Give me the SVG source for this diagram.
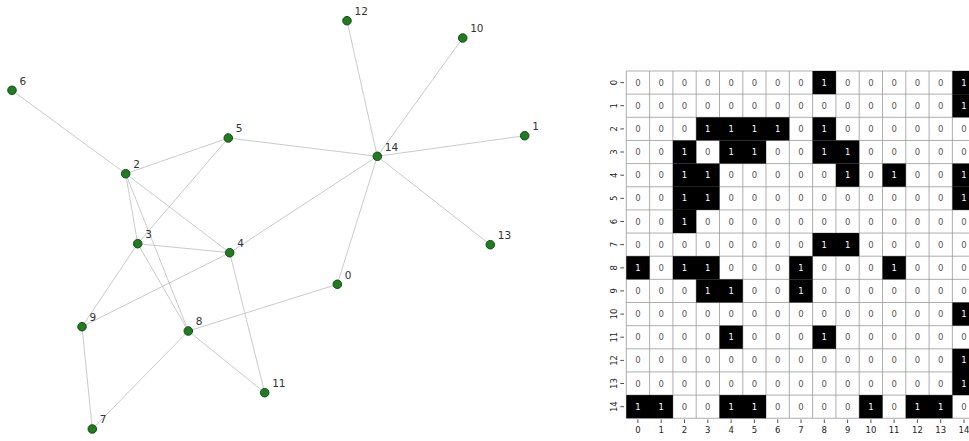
<svg xmlns="http://www.w3.org/2000/svg" width="969" height="441" viewBox="0 0 969 441">
<style>
.e{stroke:#c4c4c4;stroke-width:0.9;fill:none}
.n circle{fill:#1f7d1f;stroke:#0f3f0f;stroke-width:0.9}
.n text{font-family:"DejaVu Sans",sans-serif;font-size:10.5px;fill:#333}
.z{font-family:"DejaVu Sans",sans-serif;font-size:8.5px;fill:#555;text-anchor:middle;dominant-baseline:central}
.o{font-family:"DejaVu Sans",sans-serif;font-size:8.5px;fill:#fff;text-anchor:middle;dominant-baseline:central}
.b{fill:#000}
.g{stroke:#999;stroke-width:0.8}
.t{stroke:#222;stroke-width:0.8}
.l{font-family:"DejaVu Sans",sans-serif;font-size:8.5px;fill:#222;text-anchor:middle}
.ly{font-family:"DejaVu Sans",sans-serif;font-size:8.5px;fill:#222;text-anchor:middle;dominant-baseline:central}
</style>
<rect width="969" height="441" fill="#fff"/>
<g id="connectors">
<line class="e" x1="337.3" y1="284.3" x2="188.3" y2="331"/>
<line class="e" x1="337.3" y1="284.3" x2="377.3" y2="156.3"/>
<line class="e" x1="524.7" y1="135.7" x2="377.3" y2="156.3"/>
<line class="e" x1="125.7" y1="173.7" x2="137.7" y2="243.7"/>
<line class="e" x1="125.7" y1="173.7" x2="229.7" y2="252.7"/>
<line class="e" x1="125.7" y1="173.7" x2="228.3" y2="138"/>
<line class="e" x1="125.7" y1="173.7" x2="12" y2="90.3"/>
<line class="e" x1="125.7" y1="173.7" x2="188.3" y2="331"/>
<line class="e" x1="137.7" y1="243.7" x2="229.7" y2="252.7"/>
<line class="e" x1="137.7" y1="243.7" x2="228.3" y2="138"/>
<line class="e" x1="137.7" y1="243.7" x2="188.3" y2="331"/>
<line class="e" x1="137.7" y1="243.7" x2="82" y2="326.7"/>
<line class="e" x1="229.7" y1="252.7" x2="82" y2="326.7"/>
<line class="e" x1="229.7" y1="252.7" x2="264.7" y2="392.7"/>
<line class="e" x1="229.7" y1="252.7" x2="377.3" y2="156.3"/>
<line class="e" x1="228.3" y1="138" x2="377.3" y2="156.3"/>
<line class="e" x1="92.3" y1="429" x2="188.3" y2="331"/>
<line class="e" x1="92.3" y1="429" x2="82" y2="326.7"/>
<line class="e" x1="188.3" y1="331" x2="264.7" y2="392.7"/>
<line class="e" x1="462.7" y1="38" x2="377.3" y2="156.3"/>
<line class="e" x1="347" y1="20.7" x2="377.3" y2="156.3"/>
<line class="e" x1="490.3" y1="244.7" x2="377.3" y2="156.3"/>
</g>
<g id="node0" class="n"><circle cx="337.3" cy="284.3" r="4.3"/><text x="344.8" y="278.7">0</text></g>
<g id="node1" class="n"><circle cx="524.7" cy="135.7" r="4.3"/><text x="532.2" y="130.1">1</text></g>
<g id="node2" class="n"><circle cx="125.7" cy="173.7" r="4.3"/><text x="133.2" y="168.1">2</text></g>
<g id="node3" class="n"><circle cx="137.7" cy="243.7" r="4.3"/><text x="145.2" y="238.1">3</text></g>
<g id="node4" class="n"><circle cx="229.7" cy="252.7" r="4.3"/><text x="237.2" y="247.1">4</text></g>
<g id="node5" class="n"><circle cx="228.3" cy="138" r="4.3"/><text x="235.8" y="132.4">5</text></g>
<g id="node6" class="n"><circle cx="12" cy="90.3" r="4.3"/><text x="19.5" y="84.7">6</text></g>
<g id="node7" class="n"><circle cx="92.3" cy="429" r="4.3"/><text x="99.8" y="423.4">7</text></g>
<g id="node8" class="n"><circle cx="188.3" cy="331" r="4.3"/><text x="195.8" y="325.4">8</text></g>
<g id="node9" class="n"><circle cx="82" cy="326.7" r="4.3"/><text x="89.5" y="321.1">9</text></g>
<g id="node10" class="n"><circle cx="462.7" cy="38" r="4.3"/><text x="470.2" y="32.4">10</text></g>
<g id="node11" class="n"><circle cx="264.7" cy="392.7" r="4.3"/><text x="272.2" y="387.1">11</text></g>
<g id="node12" class="n"><circle cx="347" cy="20.7" r="4.3"/><text x="354.5" y="15.1">12</text></g>
<g id="node13" class="n"><circle cx="490.3" cy="244.7" r="4.3"/><text x="497.8" y="239.1">13</text></g>
<g id="node14" class="n"><circle cx="377.3" cy="156.3" r="4.3"/><text x="384.8" y="150.7">14</text></g>
<g id="matrix">
<g id="grid">
<line class="g" x1="626.3" y1="71" x2="626.3" y2="418.25"/>
<line class="g" x1="649.6" y1="71" x2="649.6" y2="418.25"/>
<line class="g" x1="672.9" y1="71" x2="672.9" y2="418.25"/>
<line class="g" x1="696.2" y1="71" x2="696.2" y2="418.25"/>
<line class="g" x1="719.5" y1="71" x2="719.5" y2="418.25"/>
<line class="g" x1="742.8" y1="71" x2="742.8" y2="418.25"/>
<line class="g" x1="766.0" y1="71" x2="766.0" y2="418.25"/>
<line class="g" x1="789.3" y1="71" x2="789.3" y2="418.25"/>
<line class="g" x1="812.6" y1="71" x2="812.6" y2="418.25"/>
<line class="g" x1="835.9" y1="71" x2="835.9" y2="418.25"/>
<line class="g" x1="859.2" y1="71" x2="859.2" y2="418.25"/>
<line class="g" x1="882.5" y1="71" x2="882.5" y2="418.25"/>
<line class="g" x1="905.8" y1="71" x2="905.8" y2="418.25"/>
<line class="g" x1="929.1" y1="71" x2="929.1" y2="418.25"/>
<line class="g" x1="952.4" y1="71" x2="952.4" y2="418.25"/>
<line class="g" x1="626.3" y1="71" x2="976" y2="71"/>
<line class="g" x1="626.3" y1="94.15" x2="976" y2="94.15"/>
<line class="g" x1="626.3" y1="117.3" x2="976" y2="117.3"/>
<line class="g" x1="626.3" y1="140.45" x2="976" y2="140.45"/>
<line class="g" x1="626.3" y1="163.6" x2="976" y2="163.6"/>
<line class="g" x1="626.3" y1="186.75" x2="976" y2="186.75"/>
<line class="g" x1="626.3" y1="209.9" x2="976" y2="209.9"/>
<line class="g" x1="626.3" y1="233.05" x2="976" y2="233.05"/>
<line class="g" x1="626.3" y1="256.2" x2="976" y2="256.2"/>
<line class="g" x1="626.3" y1="279.35" x2="976" y2="279.35"/>
<line class="g" x1="626.3" y1="302.5" x2="976" y2="302.5"/>
<line class="g" x1="626.3" y1="325.65" x2="976" y2="325.65"/>
<line class="g" x1="626.3" y1="348.8" x2="976" y2="348.8"/>
<line class="g" x1="626.3" y1="371.95" x2="976" y2="371.95"/>
<line class="g" x1="626.3" y1="395.1" x2="976" y2="395.1"/>
<line class="g" x1="626.3" y1="418.25" x2="976" y2="418.25"/>
</g>
<g id="black">
<rect class="b" x="812.6" y="71" width="23.3" height="23.15"/>
<rect class="b" x="952.4" y="71" width="23.3" height="23.15"/>
<rect class="b" x="952.4" y="94.15" width="23.3" height="23.15"/>
<rect class="b" x="696.2" y="117.3" width="93.1" height="23.15"/>
<rect class="b" x="812.6" y="117.3" width="23.3" height="23.15"/>
<rect class="b" x="672.9" y="140.45" width="23.3" height="23.15"/>
<rect class="b" x="719.5" y="140.45" width="46.5" height="23.15"/>
<rect class="b" x="812.6" y="140.45" width="46.6" height="23.15"/>
<rect class="b" x="672.9" y="163.6" width="46.6" height="23.15"/>
<rect class="b" x="835.9" y="163.6" width="23.3" height="23.15"/>
<rect class="b" x="882.5" y="163.6" width="23.3" height="23.15"/>
<rect class="b" x="952.4" y="163.6" width="23.3" height="23.15"/>
<rect class="b" x="672.9" y="186.75" width="46.6" height="23.15"/>
<rect class="b" x="952.4" y="186.75" width="23.3" height="23.15"/>
<rect class="b" x="672.9" y="209.9" width="23.3" height="23.15"/>
<rect class="b" x="812.6" y="233.05" width="46.6" height="23.15"/>
<rect class="b" x="626.3" y="256.2" width="23.3" height="23.15"/>
<rect class="b" x="672.9" y="256.2" width="46.6" height="23.15"/>
<rect class="b" x="789.3" y="256.2" width="23.3" height="23.15"/>
<rect class="b" x="882.5" y="256.2" width="23.3" height="23.15"/>
<rect class="b" x="696.2" y="279.35" width="46.6" height="23.15"/>
<rect class="b" x="789.3" y="279.35" width="23.3" height="23.15"/>
<rect class="b" x="952.4" y="302.5" width="23.3" height="23.15"/>
<rect class="b" x="719.5" y="325.65" width="23.3" height="23.15"/>
<rect class="b" x="812.6" y="325.65" width="23.3" height="23.15"/>
<rect class="b" x="952.4" y="348.8" width="23.3" height="46.3"/>
<rect class="b" x="626.3" y="395.1" width="46.6" height="23.15"/>
<rect class="b" x="719.5" y="395.1" width="46.5" height="23.15"/>
<rect class="b" x="859.2" y="395.1" width="23.3" height="23.15"/>
<rect class="b" x="905.8" y="395.1" width="46.6" height="23.15"/>
</g>
<g id="values">
<text class="z" x="637.9" y="82.6">0</text><text class="z" x="661.2" y="82.6">0</text><text class="z" x="684.5" y="82.6">0</text><text class="z" x="707.8" y="82.6">0</text><text class="z" x="731.1" y="82.6">0</text><text class="z" x="754.4" y="82.6">0</text><text class="z" x="777.7" y="82.6">0</text><text class="z" x="801.0" y="82.6">0</text><text class="o" x="824.3" y="82.6">1</text><text class="z" x="847.6" y="82.6">0</text><text class="z" x="870.9" y="82.6">0</text><text class="z" x="894.1" y="82.6">0</text><text class="z" x="917.4" y="82.6">0</text><text class="z" x="940.7" y="82.6">0</text><text class="o" x="964.0" y="82.6">1</text>
<text class="z" x="637.9" y="105.7">0</text><text class="z" x="661.2" y="105.7">0</text><text class="z" x="684.5" y="105.7">0</text><text class="z" x="707.8" y="105.7">0</text><text class="z" x="731.1" y="105.7">0</text><text class="z" x="754.4" y="105.7">0</text><text class="z" x="777.7" y="105.7">0</text><text class="z" x="801.0" y="105.7">0</text><text class="z" x="824.3" y="105.7">0</text><text class="z" x="847.6" y="105.7">0</text><text class="z" x="870.9" y="105.7">0</text><text class="z" x="894.1" y="105.7">0</text><text class="z" x="917.4" y="105.7">0</text><text class="z" x="940.7" y="105.7">0</text><text class="o" x="964.0" y="105.7">1</text>
<text class="z" x="637.9" y="128.9">0</text><text class="z" x="661.2" y="128.9">0</text><text class="z" x="684.5" y="128.9">0</text><text class="o" x="707.8" y="128.9">1</text><text class="o" x="731.1" y="128.9">1</text><text class="o" x="754.4" y="128.9">1</text><text class="o" x="777.7" y="128.9">1</text><text class="z" x="801.0" y="128.9">0</text><text class="o" x="824.3" y="128.9">1</text><text class="z" x="847.6" y="128.9">0</text><text class="z" x="870.9" y="128.9">0</text><text class="z" x="894.1" y="128.9">0</text><text class="z" x="917.4" y="128.9">0</text><text class="z" x="940.7" y="128.9">0</text><text class="z" x="964.0" y="128.9">0</text>
<text class="z" x="637.9" y="152.0">0</text><text class="z" x="661.2" y="152.0">0</text><text class="o" x="684.5" y="152.0">1</text><text class="z" x="707.8" y="152.0">0</text><text class="o" x="731.1" y="152.0">1</text><text class="o" x="754.4" y="152.0">1</text><text class="z" x="777.7" y="152.0">0</text><text class="z" x="801.0" y="152.0">0</text><text class="o" x="824.3" y="152.0">1</text><text class="o" x="847.6" y="152.0">1</text><text class="z" x="870.9" y="152.0">0</text><text class="z" x="894.1" y="152.0">0</text><text class="z" x="917.4" y="152.0">0</text><text class="z" x="940.7" y="152.0">0</text><text class="z" x="964.0" y="152.0">0</text>
<text class="z" x="637.9" y="175.2">0</text><text class="z" x="661.2" y="175.2">0</text><text class="o" x="684.5" y="175.2">1</text><text class="o" x="707.8" y="175.2">1</text><text class="z" x="731.1" y="175.2">0</text><text class="z" x="754.4" y="175.2">0</text><text class="z" x="777.7" y="175.2">0</text><text class="z" x="801.0" y="175.2">0</text><text class="z" x="824.3" y="175.2">0</text><text class="o" x="847.6" y="175.2">1</text><text class="z" x="870.9" y="175.2">0</text><text class="o" x="894.1" y="175.2">1</text><text class="z" x="917.4" y="175.2">0</text><text class="z" x="940.7" y="175.2">0</text><text class="o" x="964.0" y="175.2">1</text>
<text class="z" x="637.9" y="198.3">0</text><text class="z" x="661.2" y="198.3">0</text><text class="o" x="684.5" y="198.3">1</text><text class="o" x="707.8" y="198.3">1</text><text class="z" x="731.1" y="198.3">0</text><text class="z" x="754.4" y="198.3">0</text><text class="z" x="777.7" y="198.3">0</text><text class="z" x="801.0" y="198.3">0</text><text class="z" x="824.3" y="198.3">0</text><text class="z" x="847.6" y="198.3">0</text><text class="z" x="870.9" y="198.3">0</text><text class="z" x="894.1" y="198.3">0</text><text class="z" x="917.4" y="198.3">0</text><text class="z" x="940.7" y="198.3">0</text><text class="o" x="964.0" y="198.3">1</text>
<text class="z" x="637.9" y="221.5">0</text><text class="z" x="661.2" y="221.5">0</text><text class="o" x="684.5" y="221.5">1</text><text class="z" x="707.8" y="221.5">0</text><text class="z" x="731.1" y="221.5">0</text><text class="z" x="754.4" y="221.5">0</text><text class="z" x="777.7" y="221.5">0</text><text class="z" x="801.0" y="221.5">0</text><text class="z" x="824.3" y="221.5">0</text><text class="z" x="847.6" y="221.5">0</text><text class="z" x="870.9" y="221.5">0</text><text class="z" x="894.1" y="221.5">0</text><text class="z" x="917.4" y="221.5">0</text><text class="z" x="940.7" y="221.5">0</text><text class="z" x="964.0" y="221.5">0</text>
<text class="z" x="637.9" y="244.6">0</text><text class="z" x="661.2" y="244.6">0</text><text class="z" x="684.5" y="244.6">0</text><text class="z" x="707.8" y="244.6">0</text><text class="z" x="731.1" y="244.6">0</text><text class="z" x="754.4" y="244.6">0</text><text class="z" x="777.7" y="244.6">0</text><text class="z" x="801.0" y="244.6">0</text><text class="o" x="824.3" y="244.6">1</text><text class="o" x="847.6" y="244.6">1</text><text class="z" x="870.9" y="244.6">0</text><text class="z" x="894.1" y="244.6">0</text><text class="z" x="917.4" y="244.6">0</text><text class="z" x="940.7" y="244.6">0</text><text class="z" x="964.0" y="244.6">0</text>
<text class="o" x="637.9" y="267.8">1</text><text class="z" x="661.2" y="267.8">0</text><text class="o" x="684.5" y="267.8">1</text><text class="o" x="707.8" y="267.8">1</text><text class="z" x="731.1" y="267.8">0</text><text class="z" x="754.4" y="267.8">0</text><text class="z" x="777.7" y="267.8">0</text><text class="o" x="801.0" y="267.8">1</text><text class="z" x="824.3" y="267.8">0</text><text class="z" x="847.6" y="267.8">0</text><text class="z" x="870.9" y="267.8">0</text><text class="o" x="894.1" y="267.8">1</text><text class="z" x="917.4" y="267.8">0</text><text class="z" x="940.7" y="267.8">0</text><text class="z" x="964.0" y="267.8">0</text>
<text class="z" x="637.9" y="290.9">0</text><text class="z" x="661.2" y="290.9">0</text><text class="z" x="684.5" y="290.9">0</text><text class="o" x="707.8" y="290.9">1</text><text class="o" x="731.1" y="290.9">1</text><text class="z" x="754.4" y="290.9">0</text><text class="z" x="777.7" y="290.9">0</text><text class="o" x="801.0" y="290.9">1</text><text class="z" x="824.3" y="290.9">0</text><text class="z" x="847.6" y="290.9">0</text><text class="z" x="870.9" y="290.9">0</text><text class="z" x="894.1" y="290.9">0</text><text class="z" x="917.4" y="290.9">0</text><text class="z" x="940.7" y="290.9">0</text><text class="z" x="964.0" y="290.9">0</text>
<text class="z" x="637.9" y="314.1">0</text><text class="z" x="661.2" y="314.1">0</text><text class="z" x="684.5" y="314.1">0</text><text class="z" x="707.8" y="314.1">0</text><text class="z" x="731.1" y="314.1">0</text><text class="z" x="754.4" y="314.1">0</text><text class="z" x="777.7" y="314.1">0</text><text class="z" x="801.0" y="314.1">0</text><text class="z" x="824.3" y="314.1">0</text><text class="z" x="847.6" y="314.1">0</text><text class="z" x="870.9" y="314.1">0</text><text class="z" x="894.1" y="314.1">0</text><text class="z" x="917.4" y="314.1">0</text><text class="z" x="940.7" y="314.1">0</text><text class="o" x="964.0" y="314.1">1</text>
<text class="z" x="637.9" y="337.2">0</text><text class="z" x="661.2" y="337.2">0</text><text class="z" x="684.5" y="337.2">0</text><text class="z" x="707.8" y="337.2">0</text><text class="o" x="731.1" y="337.2">1</text><text class="z" x="754.4" y="337.2">0</text><text class="z" x="777.7" y="337.2">0</text><text class="z" x="801.0" y="337.2">0</text><text class="o" x="824.3" y="337.2">1</text><text class="z" x="847.6" y="337.2">0</text><text class="z" x="870.9" y="337.2">0</text><text class="z" x="894.1" y="337.2">0</text><text class="z" x="917.4" y="337.2">0</text><text class="z" x="940.7" y="337.2">0</text><text class="z" x="964.0" y="337.2">0</text>
<text class="z" x="637.9" y="360.4">0</text><text class="z" x="661.2" y="360.4">0</text><text class="z" x="684.5" y="360.4">0</text><text class="z" x="707.8" y="360.4">0</text><text class="z" x="731.1" y="360.4">0</text><text class="z" x="754.4" y="360.4">0</text><text class="z" x="777.7" y="360.4">0</text><text class="z" x="801.0" y="360.4">0</text><text class="z" x="824.3" y="360.4">0</text><text class="z" x="847.6" y="360.4">0</text><text class="z" x="870.9" y="360.4">0</text><text class="z" x="894.1" y="360.4">0</text><text class="z" x="917.4" y="360.4">0</text><text class="z" x="940.7" y="360.4">0</text><text class="o" x="964.0" y="360.4">1</text>
<text class="z" x="637.9" y="383.5">0</text><text class="z" x="661.2" y="383.5">0</text><text class="z" x="684.5" y="383.5">0</text><text class="z" x="707.8" y="383.5">0</text><text class="z" x="731.1" y="383.5">0</text><text class="z" x="754.4" y="383.5">0</text><text class="z" x="777.7" y="383.5">0</text><text class="z" x="801.0" y="383.5">0</text><text class="z" x="824.3" y="383.5">0</text><text class="z" x="847.6" y="383.5">0</text><text class="z" x="870.9" y="383.5">0</text><text class="z" x="894.1" y="383.5">0</text><text class="z" x="917.4" y="383.5">0</text><text class="z" x="940.7" y="383.5">0</text><text class="o" x="964.0" y="383.5">1</text>
<text class="o" x="637.9" y="406.7">1</text><text class="o" x="661.2" y="406.7">1</text><text class="z" x="684.5" y="406.7">0</text><text class="z" x="707.8" y="406.7">0</text><text class="o" x="731.1" y="406.7">1</text><text class="o" x="754.4" y="406.7">1</text><text class="z" x="777.7" y="406.7">0</text><text class="z" x="801.0" y="406.7">0</text><text class="z" x="824.3" y="406.7">0</text><text class="z" x="847.6" y="406.7">0</text><text class="o" x="870.9" y="406.7">1</text><text class="z" x="894.1" y="406.7">0</text><text class="o" x="917.4" y="406.7">1</text><text class="o" x="940.7" y="406.7">1</text><text class="z" x="964.0" y="406.7">0</text>
</g>
<g id="ticks">
<line class="t" x1="620.3" y1="82.6" x2="624" y2="82.6"/>
<line class="t" x1="620.3" y1="105.7" x2="624" y2="105.7"/>
<line class="t" x1="620.3" y1="128.9" x2="624" y2="128.9"/>
<line class="t" x1="620.3" y1="152.0" x2="624" y2="152.0"/>
<line class="t" x1="620.3" y1="175.2" x2="624" y2="175.2"/>
<line class="t" x1="620.3" y1="198.3" x2="624" y2="198.3"/>
<line class="t" x1="620.3" y1="221.5" x2="624" y2="221.5"/>
<line class="t" x1="620.3" y1="244.6" x2="624" y2="244.6"/>
<line class="t" x1="620.3" y1="267.8" x2="624" y2="267.8"/>
<line class="t" x1="620.3" y1="290.9" x2="624" y2="290.9"/>
<line class="t" x1="620.3" y1="314.1" x2="624" y2="314.1"/>
<line class="t" x1="620.3" y1="337.2" x2="624" y2="337.2"/>
<line class="t" x1="620.3" y1="360.4" x2="624" y2="360.4"/>
<line class="t" x1="620.3" y1="383.5" x2="624" y2="383.5"/>
<line class="t" x1="620.3" y1="406.7" x2="624" y2="406.7"/>
<line class="t" x1="637.9" y1="419.5" x2="637.9" y2="423"/>
<line class="t" x1="661.2" y1="419.5" x2="661.2" y2="423"/>
<line class="t" x1="684.5" y1="419.5" x2="684.5" y2="423"/>
<line class="t" x1="707.8" y1="419.5" x2="707.8" y2="423"/>
<line class="t" x1="731.1" y1="419.5" x2="731.1" y2="423"/>
<line class="t" x1="754.4" y1="419.5" x2="754.4" y2="423"/>
<line class="t" x1="777.7" y1="419.5" x2="777.7" y2="423"/>
<line class="t" x1="801.0" y1="419.5" x2="801.0" y2="423"/>
<line class="t" x1="824.3" y1="419.5" x2="824.3" y2="423"/>
<line class="t" x1="847.6" y1="419.5" x2="847.6" y2="423"/>
<line class="t" x1="870.9" y1="419.5" x2="870.9" y2="423"/>
<line class="t" x1="894.1" y1="419.5" x2="894.1" y2="423"/>
<line class="t" x1="917.4" y1="419.5" x2="917.4" y2="423"/>
<line class="t" x1="940.7" y1="419.5" x2="940.7" y2="423"/>
<line class="t" x1="964.0" y1="419.5" x2="964.0" y2="423"/>
</g>
<g id="ylabels">
<text class="ly" transform="translate(614 82.6) rotate(-90)">0</text>
<text class="ly" transform="translate(614 105.7) rotate(-90)">1</text>
<text class="ly" transform="translate(614 128.9) rotate(-90)">2</text>
<text class="ly" transform="translate(614 152.0) rotate(-90)">3</text>
<text class="ly" transform="translate(614 175.2) rotate(-90)">4</text>
<text class="ly" transform="translate(614 198.3) rotate(-90)">5</text>
<text class="ly" transform="translate(614 221.5) rotate(-90)">6</text>
<text class="ly" transform="translate(614 244.6) rotate(-90)">7</text>
<text class="ly" transform="translate(614 267.8) rotate(-90)">8</text>
<text class="ly" transform="translate(614 290.9) rotate(-90)">9</text>
<text class="ly" transform="translate(614 314.1) rotate(-90)">10</text>
<text class="ly" transform="translate(614 337.2) rotate(-90)">11</text>
<text class="ly" transform="translate(614 360.4) rotate(-90)">12</text>
<text class="ly" transform="translate(614 383.5) rotate(-90)">13</text>
<text class="ly" transform="translate(614 406.7) rotate(-90)">14</text>
</g>
<g id="xlabels">
<text class="l" x="637.9" y="432.5">0</text>
<text class="l" x="661.2" y="432.5">1</text>
<text class="l" x="684.5" y="432.5">2</text>
<text class="l" x="707.8" y="432.5">3</text>
<text class="l" x="731.1" y="432.5">4</text>
<text class="l" x="754.4" y="432.5">5</text>
<text class="l" x="777.7" y="432.5">6</text>
<text class="l" x="801.0" y="432.5">7</text>
<text class="l" x="824.3" y="432.5">8</text>
<text class="l" x="847.6" y="432.5">9</text>
<text class="l" x="870.9" y="432.5">10</text>
<text class="l" x="894.1" y="432.5">11</text>
<text class="l" x="917.4" y="432.5">12</text>
<text class="l" x="940.7" y="432.5">13</text>
<text class="l" x="964.0" y="432.5">14</text>
</g>
</g>
</svg>
